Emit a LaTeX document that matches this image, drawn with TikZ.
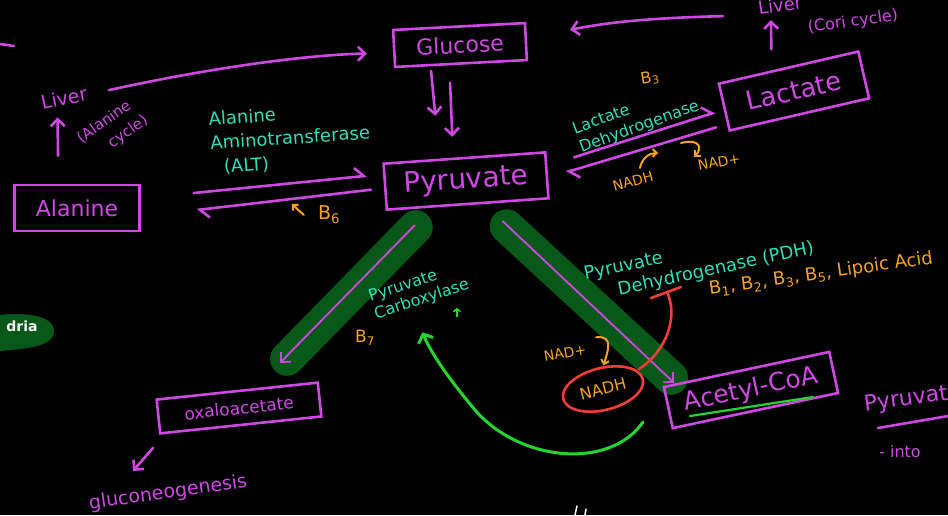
\documentclass[tikz,border=0pt]{standalone}
\usepackage{fontspec}
\setmainfont{DejaVu Sans}
\usetikzlibrary{arrows.meta,calc,shapes.geometric}
\definecolor{mag}{RGB}{208,72,228}
\definecolor{aqua}{RGB}{48,222,186}
\definecolor{amber}{RGB}{246,162,32}
\definecolor{bandgreen}{RGB}{8,88,26}
\definecolor{lime}{RGB}{36,214,44}
\definecolor{alarm}{RGB}{242,62,56}
\newcommand\fsz[2]{\fontsize{#1}{#2}\selectfont}
\pgfdeclarelayer{bg}
\pgfsetlayers{bg,main}
\tikzset{
  box/.style={draw=mag, line width=2.6pt, text=mag, inner sep=2pt},
  mline/.style={draw=mag, line width=2.6pt, line cap=round},
  marr/.style={mline, -{Straight Barb[length=7pt,width=14pt]}},
  harp/.style={mline, -{Straight Barb[left,length=9pt,width=18pt]}},
  band/.style={draw=bandgreen, line width=34pt, line cap=round},
  enz/.style={text=aqua, inner sep=0pt},
  vit/.style={text=amber, inner sep=0pt},
  note/.style={text=mag, inner sep=0pt},
  oarr/.style={draw=amber, line width=2pt, line cap=round, -{Straight Barb[length=4pt,width=8pt]}},
  garr/.style={draw=lime, line width=3pt, line cap=round, -{Straight Barb[length=7pt,width=16pt]}},
  redl/.style={draw=alarm, line width=2.6pt, line cap=round}
}
\begin{document}
\begin{tikzpicture}[x=1pt,y=-1pt]
\begin{pgfonlayer}{bg}
  \fill[black] (0,0) rectangle (948,515);
\end{pgfonlayer}
\useasboundingbox (0,0) rectangle (948,515);

% metabolite boxes
\node[box, minimum width=132pt, minimum height=37pt, rotate=3, font=\fsz{22}{26}] (glu) at (460,45) {Glucose};
\node[box, minimum width=162pt, minimum height=46pt, rotate=4, font=\fsz{28}{32}] (pyr) at (466,181) {Pyruvate};
\node[box, minimum width=143pt, minimum height=48pt, rotate=13, font=\fsz{26}{30}] (lac) at (794,91) {Lactate};
\node[box, minimum width=125pt, minimum height=46pt, font=\fsz{22}{26}] (ala) at (77,208) {Alanine};
\node[box, minimum width=162pt, minimum height=34pt, rotate=6, font=\fsz{17}{20}] (oaa) at (239,408) {oxaloacetate};
\node[box, minimum width=169pt, minimum height=42pt, rotate=12, font=\fsz{25}{28}] (acoa) at (751,390) {Acetyl-CoA};
\node[ellipse, draw=alarm, line width=2.6pt, text=amber, minimum width=82pt, minimum height=42pt, inner sep=0pt, rotate=14, font=\fsz{16}{19}] (nadh) at (603,389) {NADH};

% labels
\node[note, rotate=12, font=\fsz{19}{22}] (livA) at (64,98) {Liver};
\node[note, rotate=35, font=\fsz{15}{17}] (alacyc1) at (104,122) {(Alanine};
\node[note, rotate=35, font=\fsz{15}{17}] (alacyc2) at (128,132) {cycle)};
\node[note, rotate=8, font=\fsz{18}{20}] (livC) at (780,5) {Liver};
\node[note, rotate=8, font=\fsz{16}{18}] (coricyc) at (853,22) {(Cori cycle)};
\node[enz, anchor=north west, rotate=4, align=left, font=\fsz{18}{24}] (alt) at (208,112) {Alanine\\Aminotransferase\\\hspace{12pt}(ALT)};
\node[vit, font=\fsz{19}{22}] (b6) at (329,215) {B\textsubscript{6}};
\node[enz, rotate=20, align=left, font=\fsz{16}{20}] (ldh) at (636,118) {Lactate\\Dehydrogenase};
\node[vit, rotate=10, font=\fsz{16}{18}] (b3) at (650,78) {B\textsubscript{3}};
\node[vit, rotate=15, font=\fsz{14}{16}] (nadhL) at (633,181) {NADH};
\node[vit, rotate=10, font=\fsz{14}{16}] (nadpL) at (719,162) {NAD+};
\node[enz, rotate=18, align=left, font=\fsz{16}{19}] (pcx) at (419,291) {Pyruvate\\Carboxylase};
\node[vit, font=\fsz{17}{19}] (b7) at (365,338) {B\textsubscript{7}};
\node[enz, rotate=12, align=left, font=\fsz{18}{22}] (pdh) at (699,262) {Pyruvate\\\hspace{30pt}Dehydrogenase (PDH)};
\node[vit, rotate=8, anchor=west, font=\fsz{18}{20}] (pdhvit) at (709,290) {B\textsubscript{1}, B\textsubscript{2}, B\textsubscript{3}, B\textsubscript{5}, Lipoic Acid};
\node[vit, rotate=10, font=\fsz{14}{16}] (nadpP) at (565,353) {NAD+};
\node[note, rotate=8, font=\fsz{19}{22}] (gng) at (168,493) {gluconeogenesis};
\node[note, rotate=8, anchor=west, font=\fsz{22}{24}] (pyr2) at (864,406) {Pyruvate};
\node[note, font=\fsz{16}{18}] (into) at (900,452) {- into};

% mitochondria tag at the left edge
\fill[bandgreen] (-20,318) .. controls (20,310) and (55,314) .. (54,332) .. controls (53,348) and (20,350) .. (-20,352) -- cycle;
\node[text=white, font=\bfseries\fsz{14}{16}] (mito) at (22,326) {dria};

% stray marks
\draw[mline] (0,44) -- (14,46);
\draw[white, line width=1.5pt, line cap=round] (577,506) -- (575,515);
\draw[white, line width=1.5pt, line cap=round] (586,509) -- (585,515);

% highlighted mitochondrial steps
\coordinate (pcA) at ($(pyr.south)+(-53,20)$);
\coordinate (pcB) at ($(oaa.north)+(43,-27)$);
\coordinate (pdA) at ($(pyr.south)+(35,16)$);
\coordinate (pdB) at ($(acoa.west)+(7,-25)$);
\begin{pgfonlayer}{bg}
  \draw[band] ($(pcA)+(1,2)$) -- ($(pcB)+(7,-4)$);
  \draw[band] ($(pdA)+(4,5)$) -- ($(pdB)+(-3,-5)$);
\end{pgfonlayer}
\draw[marr, line width=1.8pt] (pcA) -- (pcB);
\draw[marr, line width=1.8pt] (pdA) -- (pdB);

% glucose to pyruvate
\draw[marr] ($(glu.south)+(-30,6)$) -- ($(pyr.north)+(-29,-41)$);
\draw[marr] ($(glu.south)+(-11,18)$) -- ($(pyr.north)+(-12,-20)$);

% alanine <-> pyruvate
\draw[harp] ($(ala.east)+(53,-15)$) -- ($(pyr.west)+(-17,-11)$);
\draw[harp] ($(pyr.west)+(-13,3)$) -- ($(ala.east)+(56,2)$);
\draw[oarr] ($(b6.west)+(-14,0)$) -- ($(b6.west)+(-26,-11)$);

% pyruvate <-> lactate
\draw[harp] ($(pyr.east)+(26,-18)$) -- ($(lac.west)+(-8,5)$);
\draw[harp] ($(lac.west)+(-7,20)$) -- ($(pyr.east)+(18,-3)$);
\draw[oarr] ($(nadhL.center)+(7,-13)$) to[bend left=40] ($(nadhL.center)+(25,-28)$);
\draw[oarr] ($(nadpL.center)+(-38,-19)$) .. controls +(20,-5) and +(8,-8) .. ($(nadpL.center)+(-25,-5)$);

% liver cycles
\draw[marr] ($(ala.north)+(-19,-28)$) -- ($(livA.south)+(-8,12)$);
\draw[marr] ($(livA.east)+(22,-3)$) .. controls (200,70) and (300,55) .. ($(glu.west)+(-26,5)$);
\draw[marr] ($(lac.north)+(-17,-17)$) -- ($(livC.south)+(-10,8)$);
\draw[marr] ($(livC.west)+(-35,8)$) .. controls (650,18) and (610,22) .. ($(glu.north east)+(44,8)$);

% oxaloacetate to gluconeogenesis
\draw[marr] ($(oaa.south west)+(-6,13)$) -- ($(gng.center)+(-35,-22)$);

% NADH regulation
\draw[oarr] ($(nadpP.east)+(10,-12)$) .. controls +(18,-2) and +(4,-14) .. ($(nadh.north)+(6,-2)$);
\coordinate (inh) at ($(nadh.center)+(64,-97)$);
\draw[redl] ($(nadh.center)+(36,-20)$) .. controls (668,350) and (678,315) .. (inh);
\draw[redl] ($(inh)+(-16,6)$) -- ($(inh)+(14,-5)$);

% acetyl-CoA activates pyruvate carboxylase
\draw[garr] ($(nadh.center)+(40,33)$) .. controls (610,470) and (520,462) .. (475,410) .. controls (450,380) and (432,355) .. ($(pcx.south)+(-2,25)$);
\draw[draw=lime, line width=1.5pt, -{Straight Barb[length=3pt,width=7pt]}] ($(pcx.east)+(-9,41)$) -- ($(pcx.east)+(-9,32)$);
\draw[draw=lime, line width=2.2pt, line cap=round] ($(acoa.center)+(-61,26)$) -- ($(acoa.center)+(62,7)$);

% side note
\draw[mline] ($(pyr2.west)+(14,22)$) -- ($(pyr2.west)+(90,9)$);
\end{tikzpicture}
\end{document}
